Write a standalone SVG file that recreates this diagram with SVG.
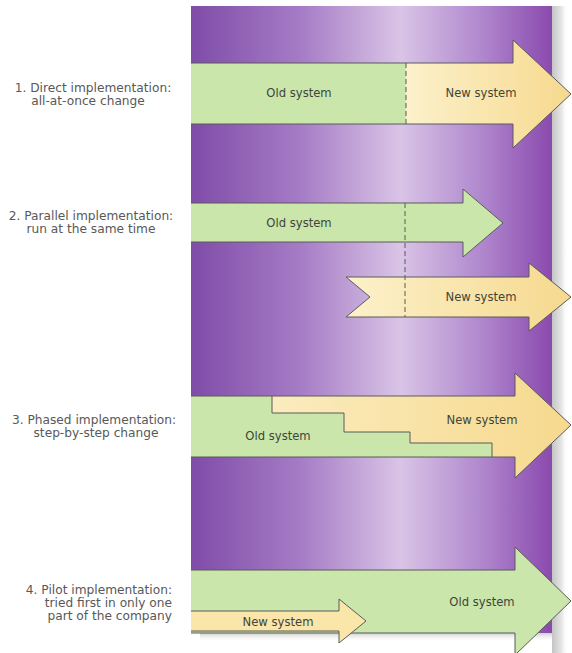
<svg xmlns="http://www.w3.org/2000/svg" width="572" height="653" viewBox="0 0 572 653">
  <defs>
    <linearGradient id="purple" x1="191" y1="0" x2="552" y2="0" gradientUnits="userSpaceOnUse">
      <stop offset="0" stop-color="#7f4ca8"/>
      <stop offset="0.3" stop-color="#a57bc5"/>
      <stop offset="0.58" stop-color="#d9c4e6"/>
      <stop offset="0.8" stop-color="#b189ce"/>
      <stop offset="1" stop-color="#8a4aae"/>
    </linearGradient>
    <linearGradient id="yellow" x1="0" y1="0" x2="1" y2="0">
      <stop offset="0" stop-color="#fcf1cb"/>
      <stop offset="1" stop-color="#f6d98e"/>
    </linearGradient>
    <linearGradient id="shadowR" x1="0" y1="0" x2="1" y2="0">
      <stop offset="0" stop-color="#c4c4c4"/>
      <stop offset="0.6" stop-color="#e6e6e6"/>
      <stop offset="1" stop-color="#ffffff" stop-opacity="0"/>
    </linearGradient>
    <linearGradient id="shadowB" x1="0" y1="0" x2="0" y2="1">
      <stop offset="0" stop-color="#cfcfcf"/>
      <stop offset="1" stop-color="#ffffff" stop-opacity="0"/>
    </linearGradient>
  </defs>
  <style>
    .lbl { font-family: "DejaVu Sans", "Liberation Sans", sans-serif; font-size: 12.2px; fill: #585858; }
    .atx { font-family: "DejaVu Sans", "Liberation Sans", sans-serif; font-size: 11.6px; fill: #3e453a; text-anchor: middle; }
    .green { fill: #cae6ab; }
    .yel { fill: url(#yellow); }
    .edge { fill: none; stroke: #5b5b5b; stroke-width: 1; stroke-linejoin: miter; }
    .dash { fill: none; stroke: #5b5b5b; stroke-width: 1; stroke-dasharray: 5 3; }
  </style>
  <rect width="572" height="653" fill="#ffffff"/>

  <g id="background">
    <rect x="552" y="6" width="16" height="647" fill="url(#shadowR)"/>
    <rect x="200" y="633" width="352" height="9" fill="url(#shadowB)"/>
    <rect x="191" y="6" width="361" height="627" fill="url(#purple)"/>
  </g>

  <g id="labels">
    <text class="lbl" x="93" y="92" text-anchor="middle">1. Direct implementation:</text>
    <text class="lbl" x="88" y="105" text-anchor="middle">all-at-once change</text>
    <text class="lbl" x="91" y="220" text-anchor="middle">2. Parallel implementation:</text>
    <text class="lbl" x="91" y="233" text-anchor="middle">run at the same time</text>
    <text class="lbl" x="94" y="424" text-anchor="middle">3. Phased implementation:</text>
    <text class="lbl" x="96" y="437" text-anchor="middle">step-by-step change</text>
    <text class="lbl" x="172" y="594" text-anchor="end">4. Pilot implementation:</text>
    <text class="lbl" x="172" y="607" text-anchor="end">tried first in only one</text>
    <text class="lbl" x="172" y="620" text-anchor="end">part of the company</text>
  </g>

  <g id="direct">
    <rect class="green" x="191" y="63" width="215" height="61"/>
    <polygon class="yel" points="406,63 513,63 513,40 571,94 513,148 513,124 406,124"/>
    <polyline class="edge" points="191,63 513,63 513,40 571,94 513,148 513,124 191,124"/>
    <line class="dash" x1="406" y1="63" x2="406" y2="124"/>
    <text class="atx" x="299" y="97">Old system</text>
    <text class="atx" x="481" y="97">New system</text>
  </g>

  <g id="parallel">
    <polygon class="green" points="191,203 463,203 463,189 503,223 463,257 463,242 191,242"/>
    <polyline class="edge" points="191,203 463,203 463,189 503,223 463,257 463,242 191,242"/>
    <polygon class="yel" points="346,277 529,277 529,263 571,297 529,331 529,317 346,317 370,297"/>
    <polygon class="edge" points="346,277 529,277 529,263 571,297 529,331 529,317 346,317 370,297"/>
    <line class="dash" x1="405" y1="203" x2="405" y2="317"/>
    <text class="atx" x="299" y="227">Old system</text>
    <text class="atx" x="481" y="301">New system</text>
  </g>

  <g id="phased">
    <polygon class="yel" points="191,396 515,396 515,373 571,425 515,478 515,457 191,457"/>
    <polygon class="green" points="191,396 272,396 272,413 344,413 344,432 410,432 410,443 492,443 492,457 191,457"/>
    <polyline class="edge" points="272,396 272,413 344,413 344,432 410,432 410,443 492,443 492,457"/>
    <polyline class="edge" points="191,396 515,396 515,373 571,425 515,478 515,457 191,457"/>
    <text class="atx" x="278" y="440">Old system</text>
    <text class="atx" x="482" y="424">New system</text>
  </g>

  <g id="pilot">
    <polygon class="green" points="191,570 515,570 515,547 571,601 515,655 515,633 191,633"/>
    <polyline class="edge" points="191,570 515,570 515,547 571,601 515,655 515,633 191,633"/>
    <polygon points="191,611 339,611 339,599 366,621 339,643 339,631 191,631" fill="#f9e6a8"/>
    <polyline class="edge" points="191,611 339,611 339,599 366,621 339,643 339,631 191,631"/>
    <text class="atx" x="482" y="606">Old system</text>
    <text class="atx" x="278" y="626">New system</text>
  </g>

  <g id="connectors"></g>
</svg>
